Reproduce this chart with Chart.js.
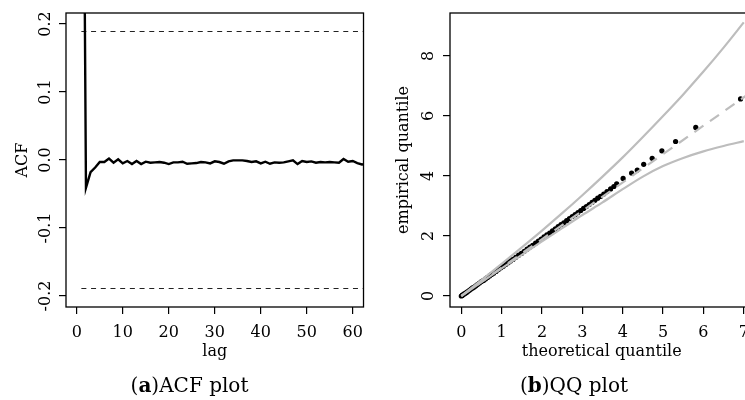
<!DOCTYPE html>
<html><head><meta charset="utf-8">
<script src="https://cdn.jsdelivr.net/npm/chart.js@4"></script>
<style>
html,body{margin:0;padding:0;background:#fff;width:745px;height:400px;overflow:hidden;position:relative}
canvas{position:absolute;top:0}
#c1{left:0}
#c2{left:372px}
.cap{position:absolute;top:375px;font:20px/20px "DejaVu Serif";color:#000;text-align:center;white-space:nowrap}
</style></head><body>
<canvas id="c1" width="372" height="400"></canvas>
<canvas id="c2" width="386" height="400"></canvas>
<div class="cap" style="left:0;width:379px">(<b>a</b>)ACF plot</div>
<div class="cap" style="left:403px;width:342px">(<b>b</b>)QQ plot</div>
<script>
// ---------- ACF panel data ----------
const acfIndex = [1,2,3,4,5,6,7,8,9,10,11,12,13,14,15,16,17,18,19,20,21,22,23,24,25,26,27,28,29,30,31,32,33,34,35,36,37,38,39,40,41,42,43,44,45,46,47,48,49,50,51,52,53,54,55,56,57,58,59,60,61,62,63];
const acfValues = [1.0,-0.041,-0.018,-0.011,-0.003,-0.003,0.002,-0.004,0.001,-0.005,-0.0015,-0.006,-0.0015,-0.006,-0.0025,
  -0.004,-0.0035,-0.003,-0.004,-0.006,-0.0035,-0.0035,-0.0025,-0.0055,-0.005,-0.0045,-0.003,-0.0035,-0.005,-0.002,
  -0.003,-0.0055,-0.002,-0.0005,-0.0005,-0.0005,-0.0015,-0.003,-0.002,-0.005,-0.0025,-0.0055,-0.0035,-0.004,-0.0035,
  -0.002,-0.0005,-0.006,-0.0015,-0.003,-0.002,-0.004,-0.003,-0.0035,-0.003,-0.0035,-0.004,0.0015,-0.0025,-0.0015,
  -0.0045,-0.0065,-0.006];
const confIndex = [1, 63];
const confLimit = 0.189;
const acfXTicks = [0,10,20,30,40,50,60];
const acfYTicks = [-0.2,-0.1,0,0.1,0.2];
const acfYTickLabels = ['-0.2','-0.1','0.0','0.1','0.2'];

// ---------- QQ panel data ----------
const qqTheoretical = [0.00,0.02,0.04,0.07,0.10,0.13,0.16,0.20,0.24,0.28,0.32,0.36,0.40,0.45,0.50,0.55,0.60,0.65,0.70,0.75,
  0.80,0.86,0.92,0.98,1.04,1.10,1.16,1.22,1.28,1.35,1.42,1.49,1.56,1.63,1.70,1.77,1.84,1.91,1.98,2.05,
  2.12,2.19,2.26,2.33,2.40,2.47,2.54,2.61,2.68,2.75,2.82,2.89,2.96,3.03,3.10,3.17,3.24,3.31,3.38,3.45,
  3.53,3.61,3.70,3.78,3.85,4.01,4.22,4.36,4.52,4.73,4.97,5.31,5.81,6.92];
const qqEmpirical = [0.00,0.02,0.04,0.07,0.09,0.12,0.15,0.19,0.23,0.27,0.30,0.34,0.38,0.43,0.48,0.52,0.57,0.62,0.67,0.72,
  0.76,0.82,0.88,0.94,0.99,1.05,1.11,1.17,1.22,1.29,1.36,1.42,1.49,1.56,1.63,1.69,1.76,1.83,1.90,1.97,
  2.04,2.10,2.17,2.24,2.31,2.38,2.44,2.51,2.58,2.65,2.71,2.78,2.85,2.92,2.98,3.05,3.12,3.19,3.26,3.32,
  3.40,3.48,3.57,3.65,3.74,3.92,4.10,4.20,4.39,4.59,4.84,5.15,5.62,6.57];
const envX = [0,0.5,1,1.5,2,2.5,3,3.5,4,4.5,5,5.5,6,6.5,7];
const envUpper = [0,0.53,1.07,1.62,2.18,2.76,3.36,3.98,4.62,5.30,6.00,6.72,7.48,8.28,9.12];
const envLower = [0,0.46,0.92,1.37,1.82,2.26,2.70,3.12,3.56,3.98,4.33,4.60,4.82,5.00,5.16];
const refX = [0, 7.4];
const refY = [0, 7.0];
const qqXTicks = [0,1,2,3,4,5,6,7];
const qqYTicks = [0,2,4,6,8];
const qqYTickLabels = ['0','2','4','6','8'];

const FAM = 'DejaVu Serif';

const boxPlugin = {
  id: 'box',
  afterDatasetsDraw(chart) {
    const a = chart.chartArea, c = chart.ctx;
    c.save(); c.strokeStyle = '#000'; c.lineWidth = 1.3;
    c.strokeRect(a.left, a.top, a.right - a.left, a.bottom - a.top);
    c.restore();
  }
};
const yLabelPlugin = {
  id: 'ylab',
  afterDraw(chart, args, opts) {
    const s = chart.scales.y, c = chart.ctx;
    c.save(); c.font = '16px "' + FAM + '"'; c.fillStyle = '#000';
    c.textAlign = 'center'; c.textBaseline = 'alphabetic';
    s.ticks.forEach((t, i) => {
      const y = s.getPixelForValue(t.value);
      c.save(); c.translate(s.right - opts.gap, y); c.rotate(-Math.PI / 2);
      c.fillText(opts.labels[i], 0, 0); c.restore();
    });
    c.restore();
  }
};

function scales(o) {
  const grid = {drawOnChartArea: false, drawTicks: true, tickLength: 7, color: '#000', lineWidth: 1.2};
  return {
    x: {
      type: 'linear', position: 'bottom', min: o.xmin, max: o.xmax,
      afterBuildTicks: s => { s.ticks = o.xticks.map(v => ({value: v})); },
      ticks: {autoSkip: false, maxRotation: 0, minRotation: 0, font: {family: FAM, size: 16}, color: '#000', padding: 9,
              callback: v => String(v)},
      grid: grid, border: {display: false},
      title: {display: true, text: o.xtitle, font: {family: FAM, size: 16}, color: '#000', padding: {top: 0, bottom: 39}},
      afterFit: s => { s.height = 93; }
    },
    y: {
      type: 'linear', position: 'left', min: o.ymin, max: o.ymax,
      afterBuildTicks: s => { s.ticks = o.yticks.map(v => ({value: v})); },
      ticks: {display: false},
      grid: grid, border: {display: false},
      title: {display: true, text: o.ytitle, font: {family: FAM, size: 16}, color: '#000', padding: {top: o.ytpad, bottom: 0}},
      afterFit: s => { s.width = o.ywidth; }
    }
  };
}

const common = {
  responsive: false, animation: false, devicePixelRatio: 1, events: [],
};

new Chart(document.getElementById('c1'), {
  type: 'scatter',
  data: {
    datasets: [
      {data: acfIndex.map((x, i) => ({x: x, y: acfValues[i]})), showLine: true, borderColor: '#000', borderWidth: 2.4,
       pointRadius: 0, tension: 0, clip: 0, order: 0},
      {data: confIndex.map(x => ({x: x, y: confLimit})), showLine: true, borderColor: '#222', borderWidth: 1.1,
       borderDash: [5, 4.7], pointRadius: 0, clip: 0, order: 1},
      {data: confIndex.map(x => ({x: x, y: -confLimit})), showLine: true, borderColor: '#222', borderWidth: 1.1,
       borderDash: [5, 4.7], pointRadius: 0, clip: 0, order: 1}
    ]
  },
  options: Object.assign({}, common, {
    layout: {padding: {top: 13, right: 2, left: 0, bottom: 0}},
    scales: scales({xmin: -2.34, xmax: 62.34, xticks: acfXTicks, xtitle: 'lag',
                    ymin: -0.2162, ymax: 0.2162, yticks: acfYTicks, ytitle: 'ACF', ytpad: 13, ywidth: 66}),
    plugins: {legend: {display: false}, tooltip: {enabled: false},
              ylab: {gap: 16, labels: acfYTickLabels}}
  }),
  plugins: [boxPlugin, yLabelPlugin]
});

new Chart(document.getElementById('c2'), {
  type: 'scatter',
  data: {
    datasets: [
      {data: qqTheoretical.map((x, i) => ({x: x, y: qqEmpirical[i]})), showLine: false, pointRadius: 2.6,
       pointBackgroundColor: '#000', pointBorderWidth: 0, clip: 0, order: 3},
      {data: envX.map((x, i) => ({x: x, y: envUpper[i]})), showLine: true, borderColor: '#bdbdbd', borderWidth: 2.2,
       pointRadius: 0, cubicInterpolationMode: 'monotone', clip: 0, order: 1},
      {data: envX.map((x, i) => ({x: x, y: envLower[i]})), showLine: true, borderColor: '#bdbdbd', borderWidth: 2.2,
       pointRadius: 0, cubicInterpolationMode: 'monotone', clip: 0, order: 1},
      {data: refX.map((x, i) => ({x: x, y: refY[i]})), showLine: true, borderColor: '#bdbdbd', borderWidth: 2.2,
       borderDash: [11, 8], pointRadius: 0, clip: 0, order: 0}
    ]
  },
  options: Object.assign({}, common, {
    layout: {padding: {top: 13, right: 2, left: 0, bottom: 0}},
    scales: scales({xmin: -0.28, xmax: 7.24, xticks: qqXTicks, xtitle: 'theoretical quantile',
                    ymin: -0.367, ymax: 9.433, yticks: qqYTicks, ytitle: 'empirical quantile', ytpad: 22, ywidth: 78}),
    plugins: {legend: {display: false}, tooltip: {enabled: false},
              ylab: {gap: 17, labels: qqYTickLabels}}
  }),
  plugins: [boxPlugin, yLabelPlugin]
});
</script>
</body></html>
